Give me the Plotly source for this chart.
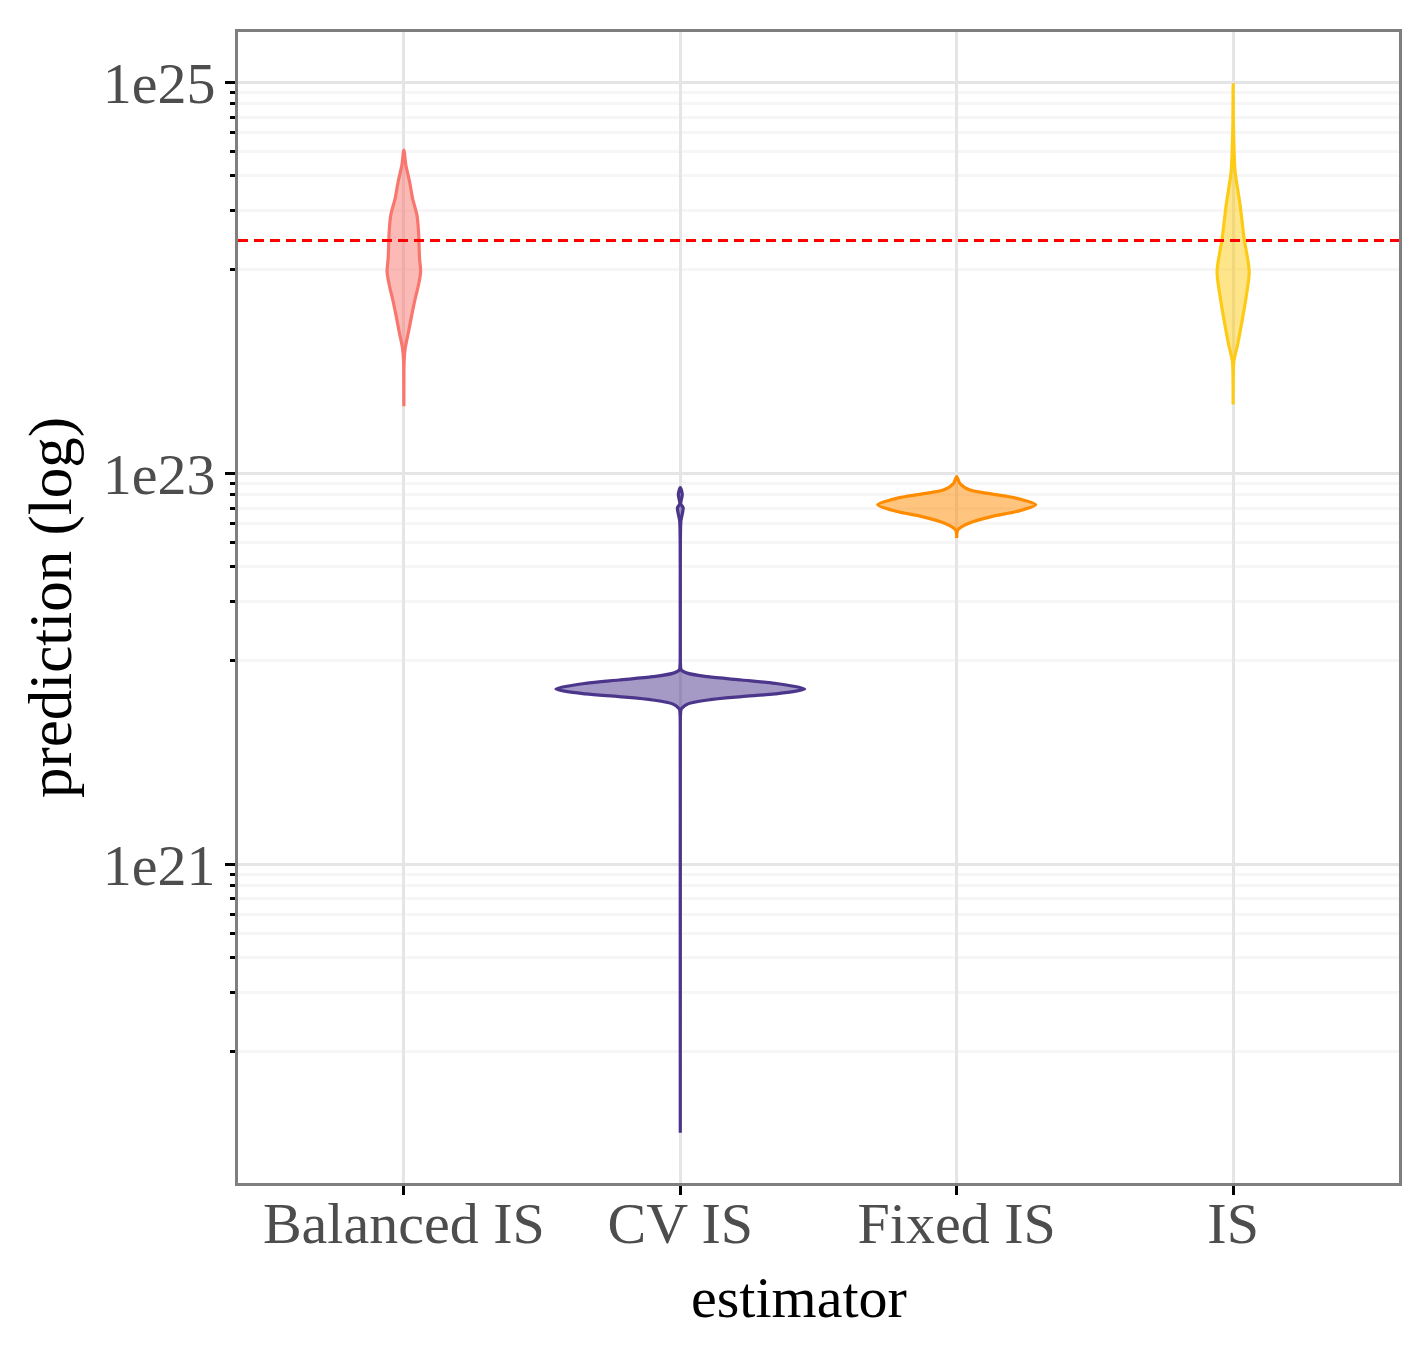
import plotly.graph_objects as go

# estimators on the x axis
estimators = ["Balanced IS", "CV IS", "Fixed IS", "IS"]

# violin outlines: log10(prediction) levels and relative density
balanced_log = [24.655, 24.578, 24.493, 24.408, 24.323, 24.238, 24.102, 24.034,
                23.966, 23.897, 23.813, 23.727, 23.642, 23.574, 23.45, 23.345]
balanced_dens = [0, 0.016, 0.046, 0.070, 0.105, 0.118, 0.126, 0.135,
                 0.118, 0.092, 0.064, 0.038, 0.011, 0.002, 0.0005, 0]

cv_log = [22.928, 22.894, 22.846, 22.825, 22.758, 22.655, 22.4, 22.1, 22.02,
          21.995, 21.978, 21.961, 21.944, 21.927, 21.898, 21.873, 21.859, 21.842,
          21.822, 21.796, 21.77, 21.6, 21.0, 20.3, 19.628]
cv_dens = [0, 0.016, 0.004, 0.023, 0.005, 0.001, 0.0005, 0.0005, 0.002,
           0.008, 0.062, 0.222, 0.493, 0.761, 1.0, 0.761, 0.493, 0.222,
           0.062, 0.008, 0.002, 0.0005, 0.0003, 0.0003, 0]

fixed_log = [22.985, 22.951, 22.917, 22.895, 22.874, 22.840, 22.806, 22.781,
             22.747, 22.713, 22.670]
fixed_dens = [0, 0.024, 0.102, 0.287, 0.48, 0.635, 0.48, 0.287, 0.102, 0.010, 0]

is_log = [24.990, 24.799, 24.646, 24.544, 24.374, 24.204, 24.034, 23.897,
          23.778, 23.660, 23.574, 23.45, 23.353]
is_dens = [0, 0.002, 0.008, 0.016, 0.056, 0.088, 0.129, 0.103, 0.071, 0.036,
           0.006, 0.0005, 0]

# reference value (dashed red line)
true_value = 1.556e24

major_ticks = [1e21, 1e23, 1e25]
major_labels = ["1e21", "1e23", "1e25"]
minor_fractions = [8 / 9, 7 / 9, 6 / 9, 5 / 9, 4 / 9, 3 / 9, 2 / 9, 1 / 9]

line_colors = ["#F8766D", "#4B368C", "#FF8C00", "#FDCB16"]
fill_colors = ["rgba(248,118,109,0.5)", "rgba(75,54,140,0.5)",
               "rgba(255,140,0,0.5)", "rgba(253,203,22,0.5)"]

profiles = [(balanced_log, balanced_dens), (cv_log, cv_dens),
            (fixed_log, fixed_dens), (is_log, is_dens)]

SERIF = "Liberation Serif, Times New Roman, serif"
HALF_WIDTH = 0.45

fig = go.Figure()

for i, (levels, dens) in enumerate(profiles):
    # right side going down, then left side coming back up
    xs = [i + HALF_WIDTH * d for d in dens] + [i - HALF_WIDTH * d for d in dens[::-1]]
    ys = [10 ** v for v in levels] + [10 ** v for v in levels[::-1]]
    fig.add_trace(go.Scatter(
        x=xs, y=ys, mode="lines", fill="toself",
        fillcolor=fill_colors[i],
        line=dict(color=line_colors[i], width=3.2, shape="spline", smoothing=0.8),
        name=estimators[i], showlegend=False, hoverinfo="skip",
    ))

fig.add_trace(go.Scatter(
    x=[-0.6, 3.6], y=[true_value, true_value], mode="lines",
    line=dict(color="#FF0000", width=3, dash="10px,6px"),
    showlegend=False, hoverinfo="skip",
))

minor_vals = [m * f for m in major_ticks for f in minor_fractions]

fig.update_layout(
    width=1428, height=1360,
    margin=dict(l=230, r=37, t=24, b=185),
    plot_bgcolor="white", paper_bgcolor="white",
    font=dict(family=SERIF, color="black"),
)
# x axis title sits a little left of the panel centre, as in the original
fig.add_annotation(
    text="estimator", xref="paper", yref="paper", x=0.483, y=0,
    xanchor="center", yanchor="middle", yshift=-114, showarrow=False,
    font=dict(family=SERIF, size=58, color="black"),
)
fig.update_xaxes(
    range=[-0.6, 3.6],
    tickvals=list(range(len(estimators))), ticktext=estimators,
    tickfont=dict(family=SERIF, size=58, color="#4D4D4D"),
    ticks="outside", ticklen=9, tickwidth=2.5, tickcolor="black",
    ticklabelstandoff=-22,
    showgrid=True, gridcolor="#E5E5E5", gridwidth=2.5, zeroline=False,
    showline=True, mirror=True, linecolor="#7F7F7F", linewidth=3,
)
fig.update_yaxes(
    type="log", range=[19.371, 25.259],
    tickvals=major_ticks, ticktext=major_labels,
    tickfont=dict(family=SERIF, size=58, color="#4D4D4D"),
    ticks="outside", ticklen=10, tickwidth=2.5, tickcolor="black",
    ticklabelstandoff=-2,
    showgrid=True, gridcolor="#E5E5E5", gridwidth=2.5, zeroline=False,
    minor=dict(tickvals=minor_vals, ticks="outside", ticklen=5, tickwidth=2.5,
               tickcolor="black", showgrid=True, gridcolor="#F6F6F6", gridwidth=2.5),
    showline=True, mirror=True, linecolor="#7F7F7F", linewidth=3,
    title=dict(text="prediction (log)", font=dict(family=SERIF, size=61, color="black"), standoff=12),
)

fig.write_html("out.html")
